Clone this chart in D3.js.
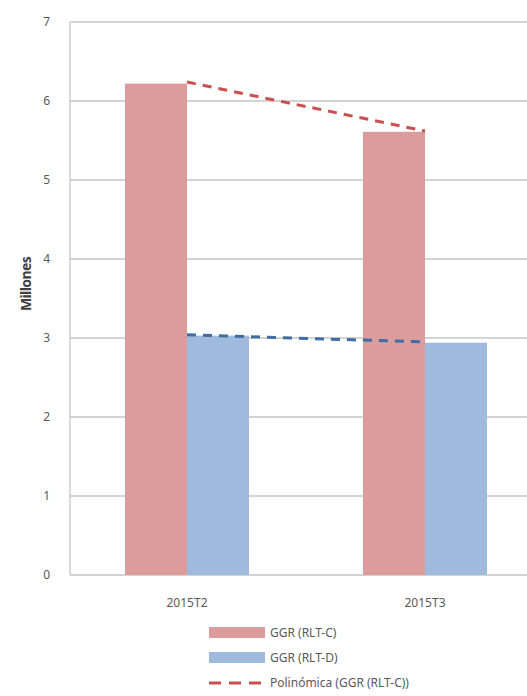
<!DOCTYPE html>
<html lang="es">
<head>
<meta charset="UTF-8">
<title>GGR</title>
<script src="https://d3js.org/d3.v7.min.js"></script>
<style>
  body { margin: 0; background: #fff; }
  svg { display: block; font-family: "Noto Sans", "DejaVu Sans", sans-serif; }
</style>
</head>
<body>
<svg id="chart"></svg>
<script>
const categories = ["2015T2", "2015T3"];
const seriesNames = ["GGR (RLT-C)", "GGR (RLT-D)"];
const rltC = [6.22, 5.61];
const rltD = [3.03, 2.94];
const trendC = [6.24, 5.62];
const trendD = [3.04, 2.95];
const yTicks = [0, 1, 2, 3, 4, 5, 6, 7];
const legendLabels = ["GGR (RLT-C)", "GGR (RLT-D)", "Polinómica (GGR (RLT-C))"];

const width = 527, height = 696;
const svg = d3.select("#chart").attr("width", width).attr("height", height);

// plot runs past the right edge of the picture, as in the original
const x = d3.scaleBand().domain(categories).range([68, 544]);
const y = d3.scaleLinear().domain([0, 7]).range([575, 22]);
const barW = 62;

const colors = ["#dd9c9c", "#9fbadd"];
const trendColors = ["#c9504f", "#3f6ca3"];

// grid
svg.append("g").selectAll("line").data(yTicks).join("line")
  .attr("x1", 70).attr("x2", 546)
  .attr("y1", d => y(d)).attr("y2", d => y(d))
  .attr("stroke", "#c6c6c6").attr("stroke-width", 1.3);

// y axis
svg.append("line").attr("x1", 70).attr("x2", 70)
  .attr("y1", y(7)).attr("y2", y(0))
  .attr("stroke", "#c6c6c6").attr("stroke-width", 1.3);

svg.append("g").selectAll("text").data(yTicks).join("text")
  .attr("x", 50).attr("y", d => y(d) + 4)
  .attr("text-anchor", "end")
  .attr("font-size", 12).attr("fill", "#595959")
  .text(d => d);

svg.append("text")
  .attr("transform", `translate(31,${284}) rotate(-90)`)
  .attr("text-anchor", "middle")
  .attr("font-size", 14).attr("font-weight", "bold").attr("fill", "#404040")
  .attr("letter-spacing", -0.6)
  .text("Millones");

// bars
const series = [rltC, rltD];
series.forEach((vals, s) => {
  svg.append("g").selectAll("rect").data(vals).join("rect")
    .attr("x", (d, i) => x(categories[i]) + x.bandwidth() / 2 - barW + s * barW)
    .attr("y", d => y(d))
    .attr("width", barW)
    .attr("height", d => y(0) - y(d))
    .attr("fill", colors[s]);
});

// x labels
svg.append("g").selectAll("text").data(categories).join("text")
  .attr("x", d => x(d) + x.bandwidth() / 2)
  .attr("y", 607)
  .attr("text-anchor", "middle")
  .attr("font-size", 12).attr("fill", "#595959")
  .text(d => d);

// trend lines
const line = d3.line()
  .x((d, i) => x(categories[i]) + x.bandwidth() / 2)
  .y(d => y(d));
[trendC, trendD].forEach((vals, s) => {
  svg.append("path").datum(vals)
    .attr("d", line)
    .attr("fill", "none")
    .attr("stroke", trendColors[s])
    .attr("stroke-width", 3)
    .attr("stroke-dasharray", "9,7");
});

// legend
const legend = svg.append("g");
const rowY = [633, 658, 683];
legendLabels.forEach((lab, i) => {
  if (i < 2) {
    legend.append("rect")
      .attr("x", 209).attr("y", rowY[i] - 6)
      .attr("width", 56).attr("height", 11)
      .attr("fill", colors[i]);
  } else {
    legend.append("line")
      .attr("x1", 209).attr("x2", 265)
      .attr("y1", rowY[i]).attr("y2", rowY[i])
      .attr("stroke", trendColors[0]).attr("stroke-width", 3)
      .attr("stroke-dasharray", "12,8");
  }
  legend.append("text")
    .attr("x", 270).attr("y", rowY[i] + 4)
    .attr("font-size", 12).attr("fill", "#595959")
    .text(lab);
});
</script>
</body>
</html>
